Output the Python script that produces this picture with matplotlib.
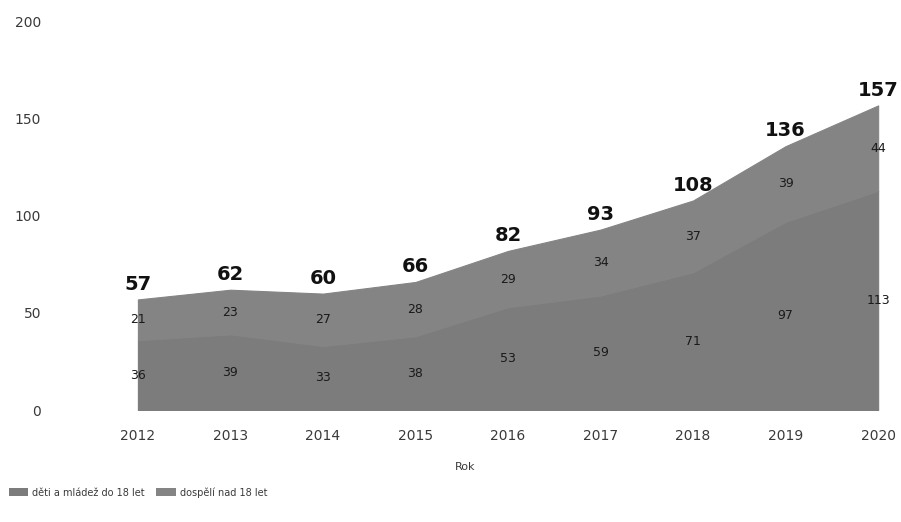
import matplotlib
matplotlib.use("Agg")
import matplotlib.pyplot as plt
from matplotlib.patches import Patch

years = [2012, 2013, 2014, 2015, 2016, 2017, 2018, 2019, 2020]
children = [36, 39, 33, 38, 53, 59, 71, 97, 113]
adults = [21, 23, 27, 28, 29, 34, 37, 39, 44]
totals = [c + a for c, a in zip(children, adults)]
series_names = ["děti a mládež do 18 let", "dospělí nad 18 let"]
yticks = [0, 50, 100, 150, 200]

plt.rcParams['font.family'] = ['DejaVu Sans']
fig = plt.figure(figsize=(9.01, 5.22), dpi=100)
ax = fig.add_axes([50/901, 1-410/522, 830/901, (410-22)/522])

c_child = '#7c7c7c'
c_adult = '#848484'
polys = ax.stackplot(years, children, adults, colors=[c_child, c_adult])
for p, c in zip(polys, [c_child, c_adult]):
    p.set_edgecolor(c)
    p.set_linewidth(0.8)

for x, c, a, t in zip(years, children, adults, totals):
    ax.text(x, c / 2, str(c), ha='center', va='center', fontsize=9, color='#1a1a1a')
    ax.text(x, c + a / 2, str(a), ha='center', va='center', fontsize=9, color='#1a1a1a')
    ax.text(x, t + 3, str(t), ha='center', va='bottom', fontsize=14, fontweight='bold', color='#111111')

ax.set_xlim(2011.05, 2020.02)
ax.set_ylim(0, 200)
ax.set_yticks(yticks)
ax.set_xticks(years)
ax.set_xticklabels([str(y) for y in years])
for s in ax.spines.values():
    s.set_visible(False)
ax.tick_params(axis='both', length=0, labelsize=10, labelcolor='#3a3a3a')
ax.tick_params(axis='y', pad=6.5)
ax.tick_params(axis='x', pad=14)
ax.set_xlabel("Rok", fontsize=8, color='#3a3a3a', labelpad=13)

handles = [Patch(facecolor=c_child, edgecolor='none', hatch='////'),
           Patch(facecolor=c_adult, edgecolor='none', hatch='\\\\\\\\')]
fig.legend(handles, series_names, loc='lower left', bbox_to_anchor=(0.0, 0.03),
           ncol=2, frameon=False, fontsize=7, handlelength=2.0, handleheight=0.8,
           columnspacing=1.2, handletextpad=0.4, labelcolor='#3a3a3a')

fig.savefig("out.png", dpi=100)
